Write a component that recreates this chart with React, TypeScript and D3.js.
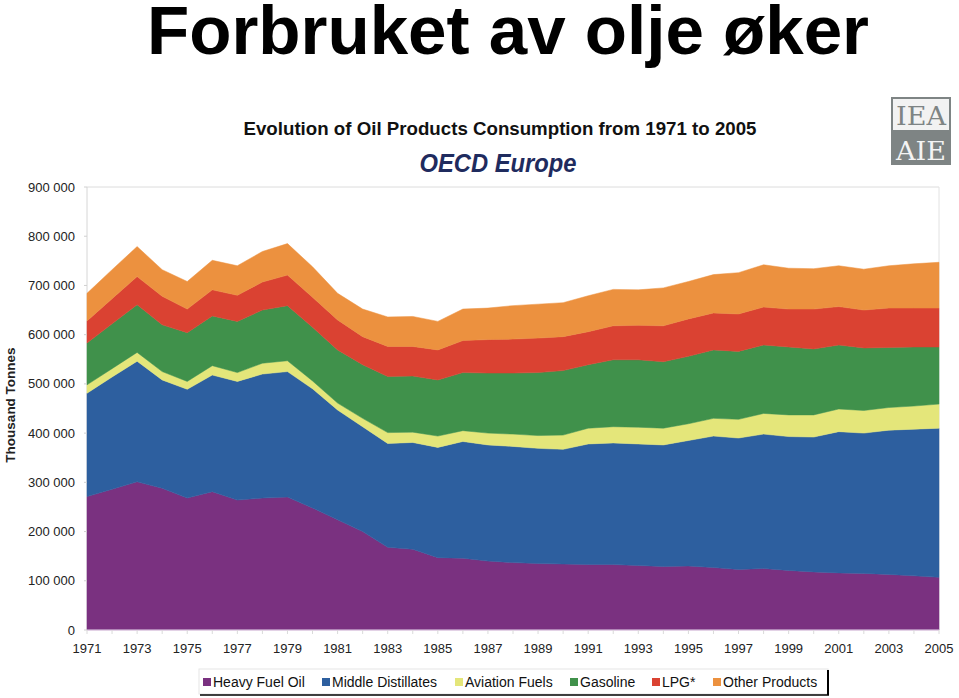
import React from "react";
import * as d3 from "d3";

const years: number[] = d3.range(1971, 2006);

const heavyFuelOil = [271, 286, 301, 288, 268, 281, 264, 268, 270, 248, 224, 200, 168, 164, 147, 146, 140, 137, 135, 134, 133, 133, 131, 129, 130, 127, 123, 125, 121, 118, 116, 115, 113, 110, 107];
const middleDistillates = [210, 228, 245, 220, 221, 237, 241, 252, 255, 242, 223, 213, 211, 217, 224, 237, 236, 236, 234, 233, 245, 247, 247, 247, 255, 267, 267, 273, 272, 274, 287, 285, 293, 298, 303];
const aviationFuels = [17, 17, 18, 17, 16, 19, 18, 22, 22, 16, 14, 17, 22, 21, 23, 22, 24, 25, 26, 29, 32, 33, 34, 34, 34, 36, 38, 42, 44, 45, 46, 46, 46, 47, 49];
const gasoline = [85, 91, 97, 95, 99, 101, 104, 108, 112, 109, 108, 109, 114, 114, 114, 118, 122, 124, 128, 131, 129, 136, 137, 135, 137, 139, 138, 139, 138, 134, 130, 127, 122, 120, 116];
const lpg = [45, 51, 57, 58, 48, 53, 53, 57, 62, 61, 61, 57, 61, 60, 61, 65, 68, 69, 70, 69, 67, 69, 70, 73, 76, 75, 76, 77, 77, 81, 78, 77, 80, 79, 79];
const otherProducts = [56, 59, 61, 54, 56, 60, 60, 62, 64, 62, 54, 56, 60, 61, 58, 64, 64, 68, 69, 69, 73, 74, 72, 77, 76, 78, 84, 86, 83, 82, 83, 83, 86, 90, 93];

const seriesNames = ["Heavy Fuel Oil", "Middle Distillates", "Aviation Fuels", "Gasoline", "LPG*", "Other Products"];
const seriesColors = ["#7a3180", "#2d5f9f", "#e4e67a", "#40914b", "#da4232", "#ec913f"];
const seriesKeys = ["heavy", "middle", "aviation", "gasoline", "lpg", "other"];

const yTicks = [0, 100000, 200000, 300000, 400000, 500000, 600000, 700000, 800000, 900000];
const xTickYears = d3.range(1971, 2006, 2);

const legendX = [203, 322, 455, 570, 652, 713];

export default function App() {
  const rows = years.map((yr, i) => ({
    year: yr,
    heavy: heavyFuelOil[i] * 1000,
    middle: middleDistillates[i] * 1000,
    aviation: aviationFuels[i] * 1000,
    gasoline: gasoline[i] * 1000,
    lpg: lpg[i] * 1000,
    other: otherProducts[i] * 1000,
  }));
  const stacked = d3.stack<any>().keys(seriesKeys)(rows);

  const x = d3.scaleLinear().domain([1971, 2005]).range([87, 939]);
  const y = d3.scaleLinear().domain([0, 900000]).range([630, 187]);

  const area = d3
    .area<any>()
    .x((d) => x(d.data.year))
    .y0((d) => y(d[0]))
    .y1((d) => y(d[1]));

  const fmt = (v: number) => (v === 0 ? "0" : d3.format(",")(v).replace(/,/g, " "));

  return (
    <svg
      width={959}
      height={698}
      style={{ position: "absolute", left: 0, top: 0, background: "#fff" }}
      fontFamily="'Liberation Sans', Arial, sans-serif"
    >
      <rect x={0} y={0} width={959} height={698} fill="#fff" />
      <text x={508} y={54} textAnchor="middle" fontSize={68} fontWeight="bold" fill="#000" textLength={722} lengthAdjust="spacingAndGlyphs">
        Forbruket av olje øker
      </text>

      <text x={500} y={135} textAnchor="middle" fontSize={19} fontWeight="bold" fill="#111" textLength={513} lengthAdjust="spacingAndGlyphs">
        Evolution of Oil Products Consumption from 1971 to 2005
      </text>
      <text x={498} y={172} textAnchor="middle" fontSize={25} fontWeight="bold" fontStyle="italic" fill="#1f2b5e" textLength={157} lengthAdjust="spacingAndGlyphs">
        OECD Europe
      </text>

      {/* logo */}
      <g>
        <rect x={891} y={97} width={60} height={68} fill="#7e8484" />
        <rect x={893} y={99} width={56} height={31} fill="#f2f2f2" />
        <text x={921} y={125} textAnchor="middle" fontSize={26} fill="#7e8484" fontFamily="'DejaVu Serif', serif" textLength={50} lengthAdjust="spacingAndGlyphs">IEA</text>
        <text x={921} y={160} textAnchor="middle" fontSize={26} fill="#f4f4f4" fontFamily="'DejaVu Serif', serif" textLength={50} lengthAdjust="spacingAndGlyphs">AIE</text>
      </g>

      {/* plot frame */}
      <line x1={87} x2={939} y1={187} y2={187} stroke="#dcdcdc" />
      <line x1={939} x2={939} y1={187} y2={630} stroke="#e2e2e2" />
      <line x1={87} x2={87} y1={187} y2={630} stroke="#d6d6d6" />

      {stacked.map((s, i) => (
        <path key={seriesKeys[i]} d={area(s) || ""} fill={seriesColors[i]} stroke={seriesColors[i]} strokeWidth={0.5} />
      ))}

      {/* y ticks */}
      {yTicks.map((t) => (
        <g key={t}>
          <line x1={84} x2={87} y1={y(t)} y2={y(t)} stroke="#d0d0d0" />
          <text x={75} y={y(t) + 4.5} textAnchor="end" fontSize={13} fill="#222">
            {fmt(t)}
          </text>
        </g>
      ))}
      <line x1={87} x2={939} y1={630} y2={630} stroke="#e8d8ec" />
      {years.map((yr) => (
        <line key={yr} x1={x(yr)} x2={x(yr)} y1={630} y2={634} stroke="#dadada" />
      ))}
      {xTickYears.map((yr) => (
        <text key={yr} x={x(yr)} y={653} textAnchor="middle" fontSize={13} fill="#222">
          {yr}
        </text>
      ))}

      <text transform="translate(15,405) rotate(-90)" textAnchor="middle" fontSize={13.5} fontWeight="bold" fill="#222">
        Thousand Tonnes
      </text>

      {/* legend */}
      <rect x={199} y={669} width={629} height={25} fill="#fff" stroke="#e6e6e6" />
      <line x1={828} x2={828} y1={670} y2={695} stroke="#000" strokeWidth={2} />
      <line x1={200} x2={829} y1={695} y2={695} stroke="#000" strokeWidth={1.5} />
      {seriesNames.map((n, i) => (
        <g key={n}>
          <rect x={legendX[i]} y={678} width={8} height={8} fill={seriesColors[i]} />
          <text x={legendX[i] + 10} y={687} fontSize={14} fill="#111">
            {n}
          </text>
        </g>
      ))}
    </svg>
  );
}
